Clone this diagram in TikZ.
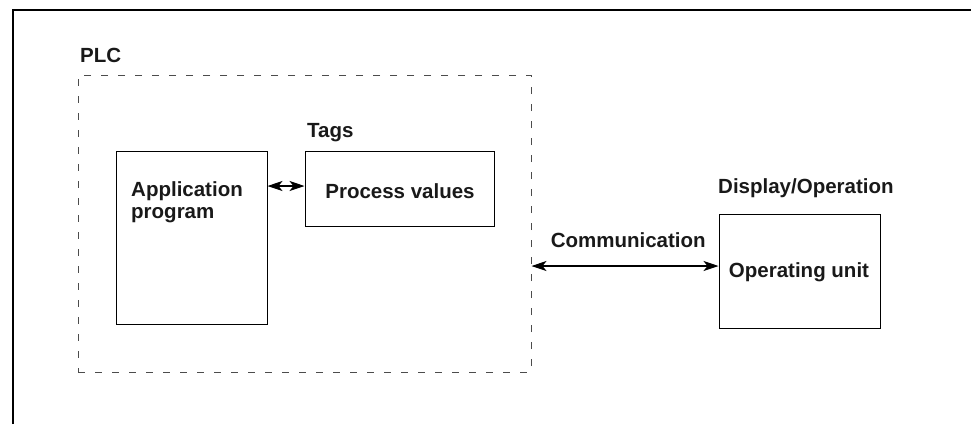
\documentclass[tikz,border=0pt]{standalone}
\usepackage{fontspec}
\setmainfont{Liberation Sans}
\usetikzlibrary{arrows.meta}

\tikzset{
	unit/.style={draw, line width=1pt, inner sep=0pt},
	lbl/.style={font=\fontsize{20.5}{22}\selectfont\bfseries, text=black!90, inner sep=0pt},
	link/.style={line width=1.1pt, {Stealth[length=15pt,width=10pt,inset=4pt]}-{Stealth[length=15pt,width=10pt,inset=4pt]}}
}

\begin{document}
\begin{tikzpicture}[x=1pt,y=-1pt]
	\useasboundingbox (0,0) rectangle (971,424);
	\draw[line width=1.4pt] (13,424)--(13,10)--(971,10);

	% PLC
	\node[draw=black!70, line width=1pt, dash pattern=on 7pt off 10pt,
		minimum width=453pt, minimum height=297pt, inner sep=0pt] (plc) at (304.5,223.5) {};
	\node[lbl, anchor=base west] (plctxt) at (80,62) {PLC};

	\node[unit, minimum width=151pt, minimum height=173pt] (app) at (191.5,237.5) {};
	\node[lbl, anchor=north west, align=left] (apptxt) at (131,181) {Application\\program};

	\node[unit, minimum width=189pt, minimum height=75pt] (pv) at (399.5,188.5) {};
	\node[lbl, anchor=base] (pvtxt) at (400,198) {Process values};
	\node[lbl, anchor=base west] (tags) at (307,137) {Tags};

	\draw[link] ([yshift=2.5pt]pv.west -| app.east) -- ([yshift=2.5pt]pv.west);

	% operating unit
	\node[unit, minimum width=161pt, minimum height=114pt] (op) at (799.5,271) {};
	\node[lbl, anchor=base] (optxt) at (799,277) {Operating unit};
	\node[lbl, anchor=base west] (disp) at (718,193) {Display/Operation};

	\draw[link] ([yshift=5pt]op.west -| plc.east) -- ([yshift=5pt]op.west)
		node[lbl, pos=0.1, anchor=base west, yshift=19pt] (comm) {Communication};
\end{tikzpicture}
\end{document}
